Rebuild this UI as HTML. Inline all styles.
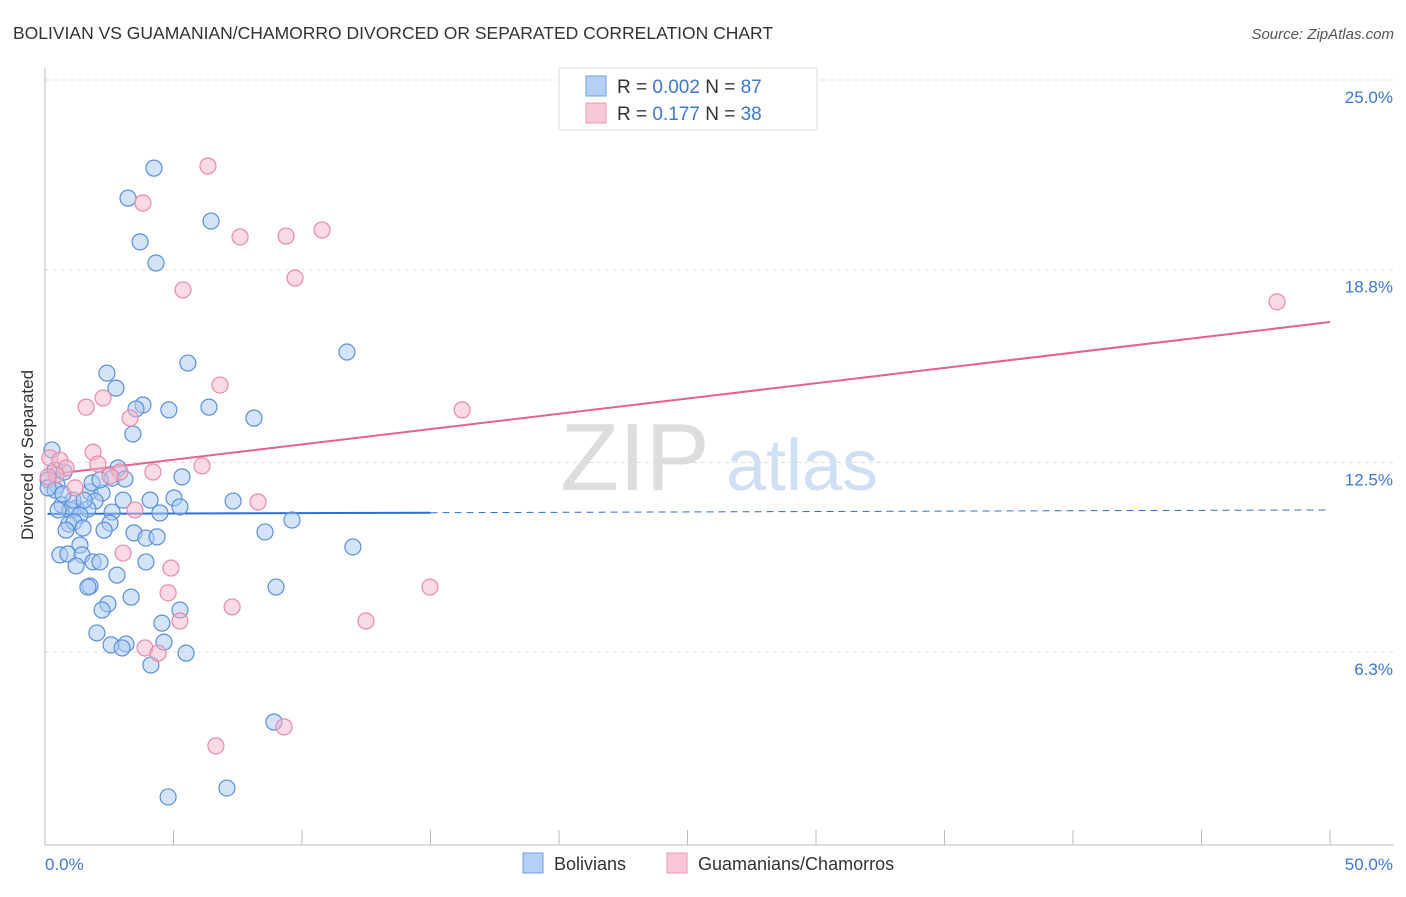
<!DOCTYPE html>
<html><head><meta charset="utf-8"><style>
body{margin:0;background:#fff;font-family:"Liberation Sans",sans-serif;}
svg text{font-family:"Liberation Sans",sans-serif;}
</style></head><body>
<svg id="chart" width="1406" height="892" xmlns="http://www.w3.org/2000/svg">
<text x="13" y="39" font-size="17.5" fill="#333">BOLIVIAN VS GUAMANIAN/CHAMORRO DIVORCED OR SEPARATED CORRELATION CHART</text>
<text x="1394" y="39" font-size="15" fill="#555" text-anchor="end" font-style="italic">Source: ZipAtlas.com</text>
<g>
<text x="635" y="490" font-size="96" fill="#ddd" font-family="Liberation Serif" text-anchor="middle">ZIP</text>
<text x="802" y="490" font-size="72" fill="#cfe0f4" text-anchor="middle">atlas</text>
</g>
<g id="grid"></g>
<g id="axes"></g>
<g id="trend"></g>
<g id="points"></g>
<text transform="translate(33,455) rotate(-90)" font-size="17" fill="#333" text-anchor="middle">Divorced or Separated</text>
<g>
<rect x="559" y="68" width="258" height="62" fill="#fff" stroke="#ddd"/>
<rect x="586" y="76" width="20" height="20" fill="#b4d0f5" stroke="#6f9ee0"/>
<rect x="586" y="103" width="20" height="20" fill="#f9c8d7" stroke="#ec9ab3"/>
<text x="617" y="93" font-size="19" fill="#333">R = <tspan fill="#3a78d4">0.002</tspan>   N = <tspan fill="#3a78d4">87</tspan></text>
<text x="617" y="120" font-size="19" fill="#333">R =  <tspan fill="#3a78d4">0.177</tspan>   N = <tspan fill="#3a78d4">38</tspan></text>
</g>
<g>
<rect x="523" y="853" width="20" height="20" fill="#b4d0f5" stroke="#6f9ee0"/>
<text x="554" y="870" font-size="18" fill="#333">Bolivians</text>
<rect x="667" y="853" width="20" height="20" fill="#f9c8d7" stroke="#ec9ab3"/>
<text x="698" y="870" font-size="18" fill="#333">Guamanians/Chamorros</text>
</g>
</svg>
<script>
const blueX=[4.24,3.23,6.46,3.70,4.32,11.75,5.56,2.41,2.76,3.81,3.54,4.82,6.38,8.13,3.42,0.27,2.84,0.39,0.74,5.33,0.12,0.47,1.75,2.22,3.04,4.09,5.02,7.32,1.95,0.66,1.21,1.67,2.61,5.25,4.47,0.97,0.51,1.36,9.61,2.53,0.93,1.13,1.48,0.82,3.46,8.56,2.30,3.93,4.36,1.36,11.98,0.58,0.89,1.44,1.87,2.14,1.21,3.93,2.80,1.75,1.67,8.99,3.35,2.45,2.22,5.25,4.55,2.02,2.57,3.15,3.00,4.63,5.49,4.12,8.91,4.79,7.08,0.39,0.12,1.09,2.61,1.83,3.11,2.14,0.70,1.52];
const blueY=[22.12,21.14,20.39,19.71,19.02,16.11,15.75,15.42,14.93,14.38,14.25,14.22,14.31,13.95,13.43,12.91,12.32,12.25,12.19,12.03,11.93,11.76,11.54,11.50,11.27,11.27,11.34,11.24,11.24,11.11,11.01,10.98,10.88,11.05,10.85,10.95,10.95,10.78,10.62,10.52,10.49,10.56,10.36,10.29,10.20,10.23,10.29,10.03,10.07,9.80,9.74,9.48,9.51,9.48,9.25,9.25,9.12,9.25,8.82,8.46,8.43,8.43,8.10,7.88,7.68,7.68,7.25,6.93,6.54,6.57,6.44,6.63,6.27,5.88,4.02,1.57,1.86,11.60,11.67,11.27,11.99,11.83,11.96,11.93,11.47,11.27];
const pinkX=[6.34,3.81,10.78,7.59,9.38,9.73,5.37,47.94,6.81,1.60,2.26,3.31,16.23,1.87,0.19,0.58,0.82,2.06,6.11,4.20,2.92,2.53,8.29,3.50,1.17,0.43,3.04,4.90,14.98,4.79,7.28,5.25,12.49,3.89,4.40,6.65,9.30,0.12];
const pinkY=[22.19,20.98,20.10,19.87,19.90,18.53,18.14,17.75,15.03,14.31,14.61,13.95,14.22,12.84,12.65,12.58,12.32,12.45,12.39,12.19,12.19,12.06,11.21,10.95,11.67,12.09,9.54,9.05,8.43,8.24,7.78,7.32,7.32,6.44,6.27,3.24,3.86,12.03];
const yTicks=[25,18.8,12.5,6.3];
const yTickLabels=["25.0%","18.8%","12.5%","6.3%"];
const xTicks=[0,5,10,15,20,25,30,35,40,45,50];
const blueTrend=[10.82,10.95];
const pinkTrend=[12.1,17.09];
const trendX=[0.1,50];
const blueSolidEnd=15;

const NS="http://www.w3.org/2000/svg";
const xs=v=>45+v*25.7;
const ys=v=>845-v*30.6;
function mk(tag,parent,attrs){const e=document.createElementNS(NS,tag);for(const k in attrs)e.setAttribute(k,attrs[k]);document.getElementById(parent).appendChild(e);return e;}
yTicks.forEach((t,i)=>{
  const l=mk('line','grid',{x1:45,x2:1394,y1:ys(t),y2:ys(t),stroke:'#ddd','stroke-dasharray':'4,4'});
  
  
  const tx=mk('text','grid',{x:1393,y:ys(t)+23,'font-size':17,fill:'#3a78d4','text-anchor':'end'});
  tx.textContent=yTickLabels[i];
  
  
});
const ya=mk('line','axes',{x1:45,x2:45,y1:68,y2:845,stroke:'#bbb'});


const xa=mk('line','axes',{x1:45,x2:1394,y1:845,y2:845,stroke:'#bbb'});


xTicks.forEach(t=>{
  const l=mk('line','axes',{x1:xs(t),x2:xs(t),y1:830,y2:845,stroke:'#bbb'});
  
  
});
const xl0=mk('text','axes',{x:45,y:870,'font-size':17,fill:'#3a78d4'});
xl0.textContent=xTicks[0].toFixed(1)+'%';


const xl1=mk('text','axes',{x:1393,y:870,'font-size':17,fill:'#3a78d4','text-anchor':'end'});
xl1.textContent=xTicks[xTicks.length-1].toFixed(1)+'%';


function dot(x,y,fill,stroke,name){
  const c=mk('circle','points',{cx:xs(x),cy:ys(y),r:8,fill:fill,'fill-opacity':0.5,stroke:stroke,'stroke-width':1.2});
  
  
}
blueX.forEach((x,i)=>dot(x,blueY[i],'#a9c9f2','#5b8fdb','bolivian-point'));
pinkX.forEach((x,i)=>dot(x,pinkY[i],'#f6b5c9','#e88aa8','guamanian-point'));
const by=x=>blueTrend[0]+(blueTrend[1]-blueTrend[0])*(x-trendX[0])/(trendX[1]-trendX[0]);
const b1=mk('line','trend',{x1:xs(trendX[0]),y1:ys(blueTrend[0]),x2:xs(blueSolidEnd),y2:ys(by(blueSolidEnd)),stroke:'#2d6fd2','stroke-width':2});


const b2=mk('line','trend',{x1:xs(blueSolidEnd),y1:ys(by(blueSolidEnd)),x2:xs(trendX[1]),y2:ys(blueTrend[1]),stroke:'#2d6fd2','stroke-width':1,'stroke-dasharray':'7,5'});


const p1=mk('line','trend',{x1:xs(trendX[0]),y1:ys(pinkTrend[0]),x2:xs(trendX[1]),y2:ys(pinkTrend[1]),stroke:'#e5638d','stroke-width':2});


</script>
</body></html>
